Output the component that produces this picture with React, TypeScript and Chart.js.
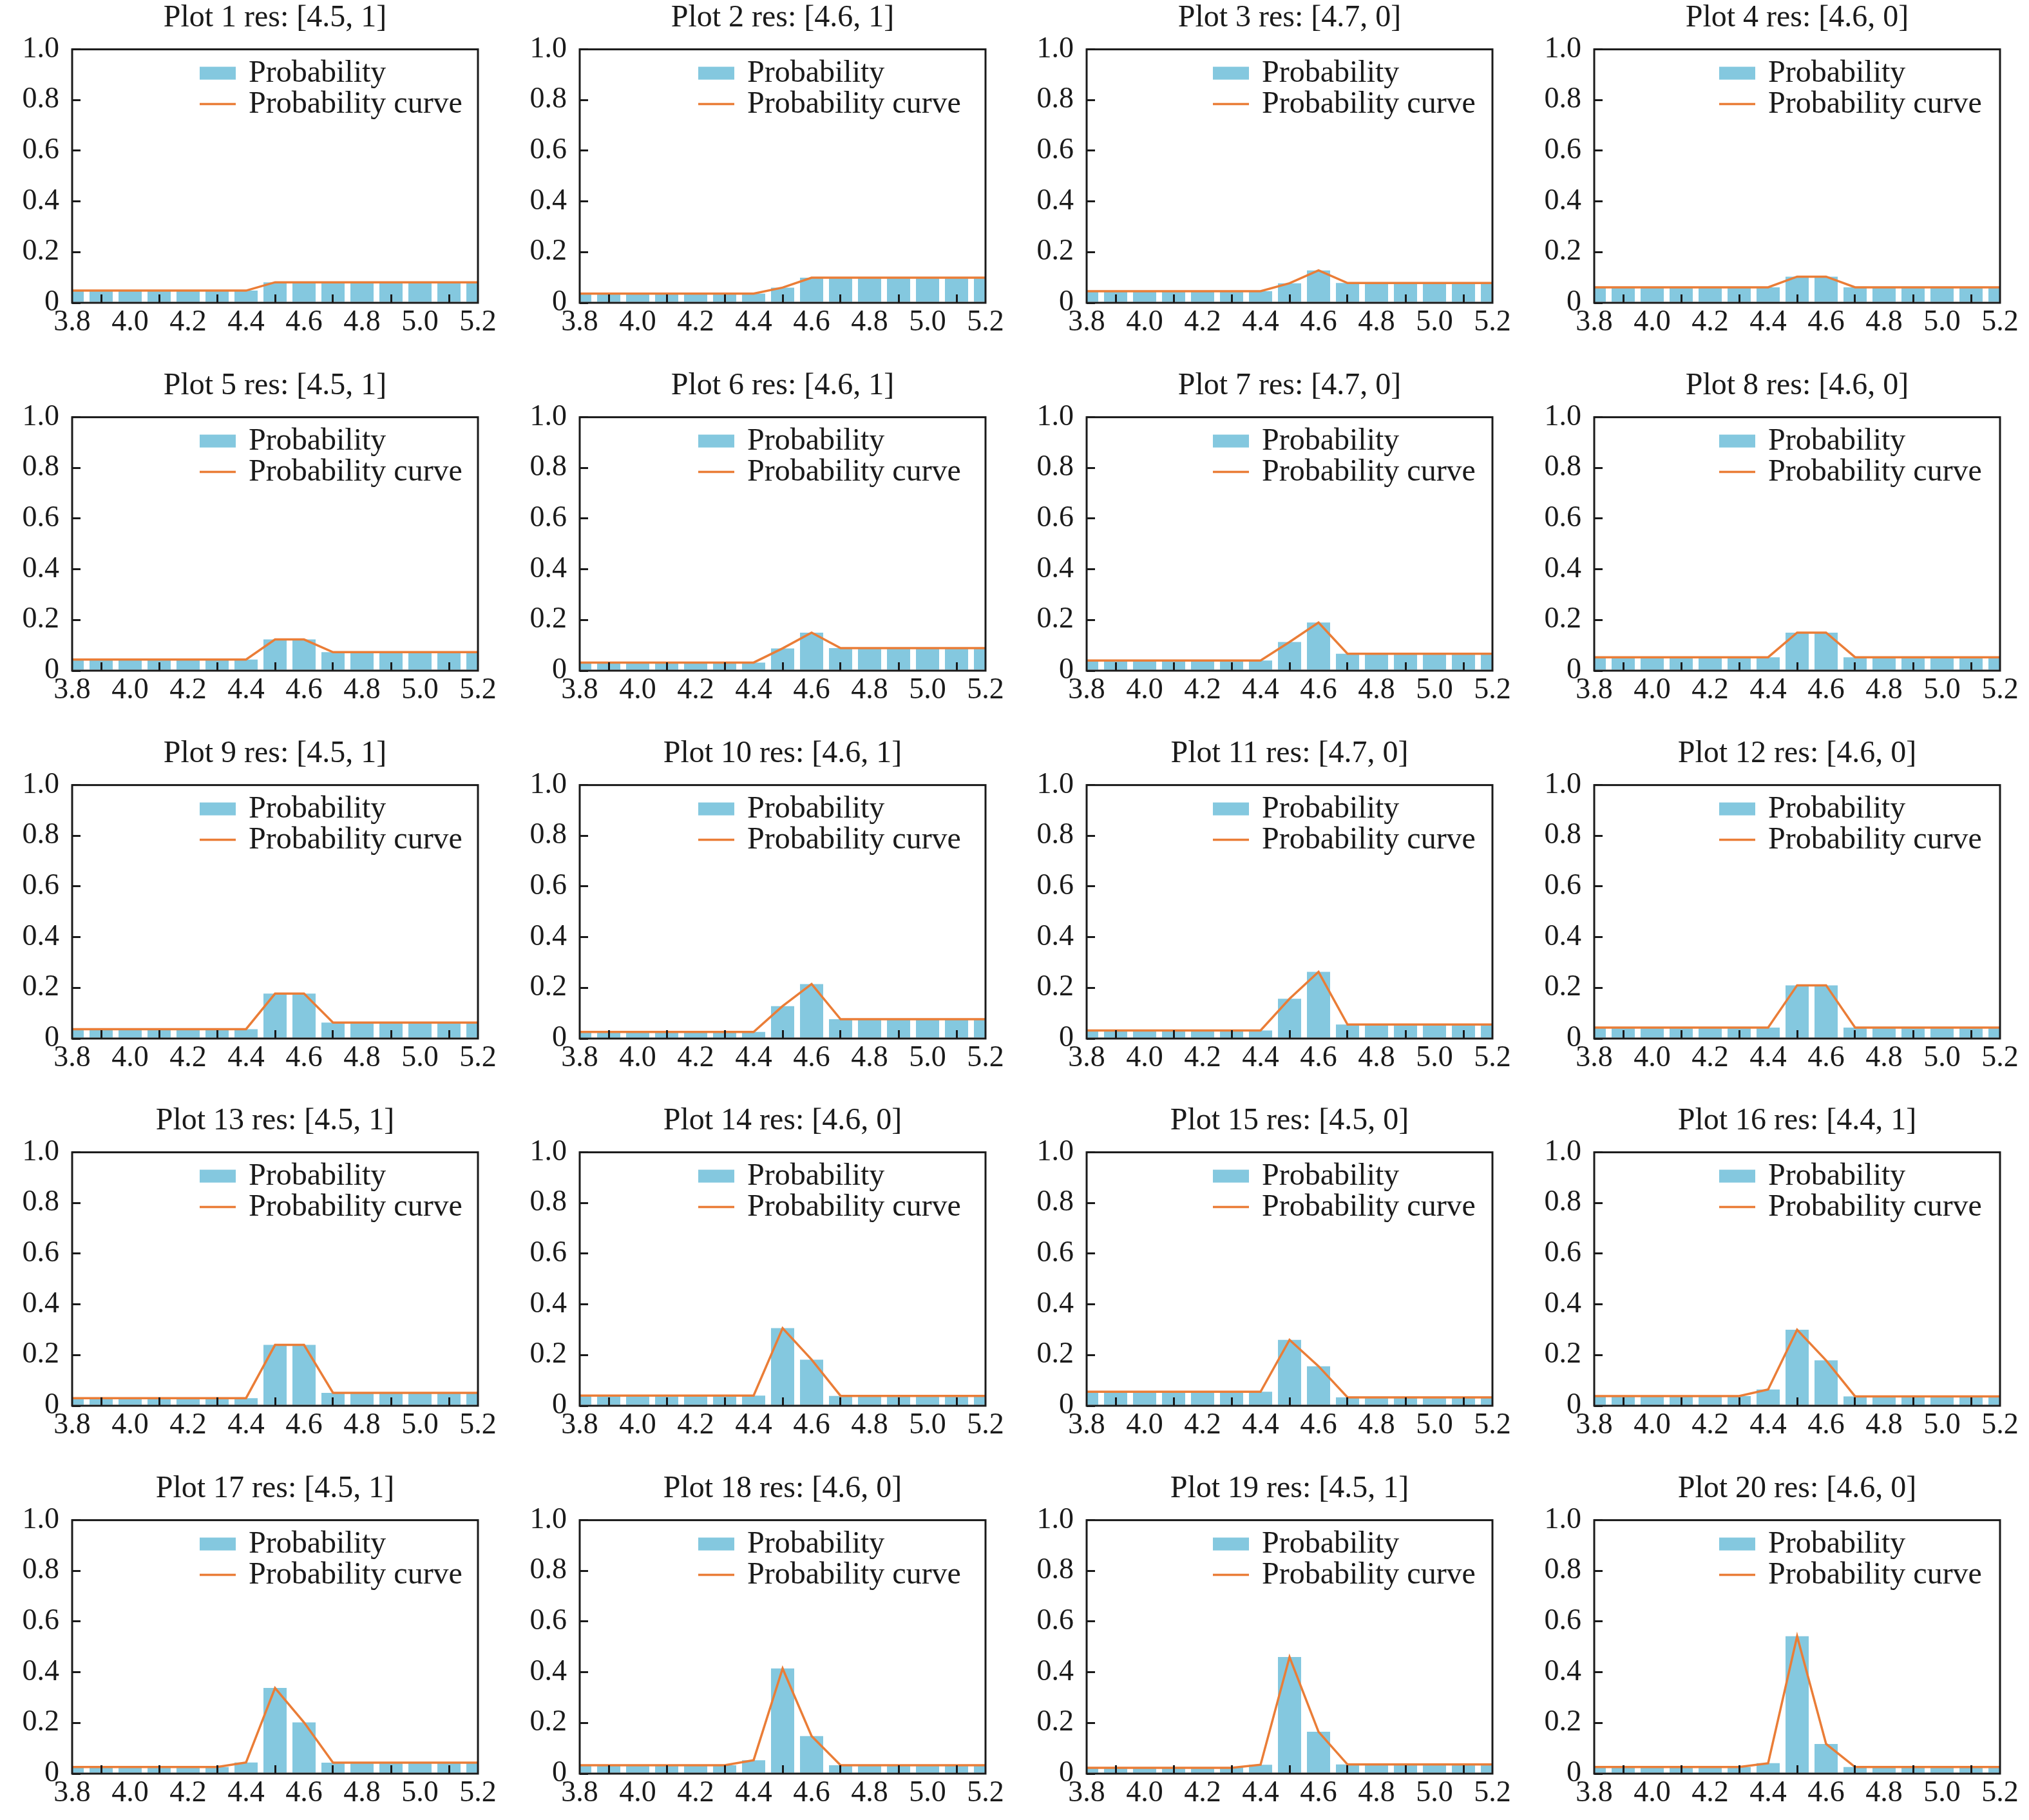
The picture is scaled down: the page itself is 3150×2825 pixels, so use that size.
import { useEffect, useRef } from 'react';
import { Chart, registerables } from 'chart.js';

Chart.register(...registerables);

// bin centres shared by every panel
const xValues = [3.8, 3.9, 4.0, 4.1, 4.2, 4.3, 4.4, 4.5, 4.6, 4.7, 4.8, 4.9, 5.0, 5.1, 5.2];
const xTicks = [3.8, 4.0, 4.2, 4.4, 4.6, 4.8, 5.0, 5.2];
const yTicks = [0, 0.2, 0.4, 0.6, 0.8, 1.0];

const seriesLabels = ['Probability', 'Probability curve'];

const results = [
  '[4.5, 1]', '[4.6, 1]', '[4.7, 0]', '[4.6, 0]',
  '[4.5, 1]', '[4.6, 1]', '[4.7, 0]', '[4.6, 0]',
  '[4.5, 1]', '[4.6, 1]', '[4.7, 0]', '[4.6, 0]',
  '[4.5, 1]', '[4.6, 0]', '[4.5, 0]', '[4.4, 1]',
  '[4.5, 1]', '[4.6, 0]', '[4.5, 1]', '[4.6, 0]'
];

// one row per plot
const probabilities: number[][] = [
  [0.048, 0.048, 0.048, 0.048, 0.048, 0.048, 0.048, 0.081, 0.081, 0.081, 0.081, 0.081, 0.081, 0.081, 0.081],
  [0.036, 0.036, 0.036, 0.036, 0.036, 0.036, 0.036, 0.06, 0.099, 0.099, 0.099, 0.099, 0.099, 0.099, 0.099],
  [0.046, 0.046, 0.046, 0.046, 0.046, 0.046, 0.046, 0.077, 0.128, 0.078, 0.078, 0.078, 0.078, 0.078, 0.078],
  [0.061, 0.061, 0.061, 0.061, 0.061, 0.061, 0.061, 0.103, 0.103, 0.061, 0.061, 0.061, 0.061, 0.061, 0.061],
  [0.044, 0.044, 0.044, 0.044, 0.044, 0.044, 0.044, 0.123, 0.123, 0.073, 0.073, 0.073, 0.073, 0.073, 0.073],
  [0.032, 0.032, 0.032, 0.032, 0.032, 0.032, 0.032, 0.088, 0.15, 0.089, 0.089, 0.089, 0.089, 0.089, 0.089],
  [0.04, 0.04, 0.04, 0.04, 0.04, 0.04, 0.04, 0.113, 0.19, 0.067, 0.067, 0.067, 0.067, 0.067, 0.067],
  [0.053, 0.053, 0.053, 0.053, 0.053, 0.053, 0.053, 0.15, 0.15, 0.053, 0.053, 0.053, 0.053, 0.053, 0.053],
  [0.037, 0.037, 0.037, 0.037, 0.037, 0.037, 0.037, 0.177, 0.177, 0.063, 0.063, 0.063, 0.063, 0.063, 0.063],
  [0.026, 0.026, 0.026, 0.026, 0.026, 0.026, 0.026, 0.128, 0.215, 0.076, 0.076, 0.076, 0.076, 0.076, 0.076],
  [0.032, 0.032, 0.032, 0.032, 0.032, 0.032, 0.032, 0.157, 0.263, 0.055, 0.055, 0.055, 0.055, 0.055, 0.055],
  [0.043, 0.043, 0.043, 0.043, 0.043, 0.043, 0.043, 0.21, 0.21, 0.043, 0.043, 0.043, 0.043, 0.043, 0.043],
  [0.03, 0.03, 0.03, 0.03, 0.03, 0.03, 0.03, 0.24, 0.24, 0.051, 0.051, 0.051, 0.051, 0.051, 0.051],
  [0.04, 0.04, 0.04, 0.04, 0.04, 0.04, 0.04, 0.306, 0.182, 0.039, 0.039, 0.039, 0.039, 0.039, 0.039],
  [0.055, 0.055, 0.055, 0.055, 0.055, 0.055, 0.055, 0.26, 0.156, 0.033, 0.033, 0.033, 0.033, 0.033, 0.033],
  [0.038, 0.038, 0.038, 0.038, 0.038, 0.038, 0.064, 0.3, 0.179, 0.037, 0.037, 0.037, 0.037, 0.037, 0.037],
  [0.026, 0.026, 0.026, 0.026, 0.026, 0.026, 0.044, 0.338, 0.202, 0.043, 0.043, 0.043, 0.043, 0.043, 0.043],
  [0.033, 0.033, 0.033, 0.033, 0.033, 0.033, 0.053, 0.415, 0.148, 0.033, 0.033, 0.033, 0.033, 0.033, 0.033],
  [0.023, 0.023, 0.023, 0.023, 0.023, 0.023, 0.035, 0.46, 0.165, 0.036, 0.036, 0.036, 0.036, 0.036, 0.036],
  [0.026, 0.026, 0.026, 0.026, 0.026, 0.026, 0.041, 0.542, 0.117, 0.026, 0.026, 0.026, 0.026, 0.026, 0.026]
];

const BAR = '#84C8DF';
const CURVE = '#EA7D37';
const INK = '#1a1a1a';
const FONT = "'Liberation Serif', 'Times New Roman', serif";

const CELL_W = 787;
const CELL_H = 540;
// legend left edge inside the axes, per column (matplotlib placed them slightly differently)
const legendOffsets = [198, 184, 196, 194];

// axes frame on all four sides
const framePlugin = {
  id: 'frame',
  afterDraw(chart: any) {
    const { ctx, chartArea: a } = chart;
    ctx.save();
    ctx.strokeStyle = INK;
    ctx.lineWidth = 3;
    ctx.strokeRect(a.left, a.top, a.right - a.left, a.bottom - a.top);
    ctx.restore();
  }
};

// legend drawn inside the plot area, no frame
const insideLegend = {
  id: 'insideLegend',
  afterDraw(chart: any, _args: any, opts: any) {
    const { ctx, chartArea: a } = chart;
    const left = a.left + (opts.offset ?? 196);
    ctx.save();
    ctx.font = `48px ${FONT}`;
    ctx.textAlign = 'left';
    ctx.textBaseline = 'middle';
    chart.data.datasets.forEach((ds: any, i: number) => {
      const cy = a.top + 37 + i * 48;
      if (ds.type === 'line') {
        ctx.strokeStyle = ds.borderColor;
        ctx.lineWidth = ds.borderWidth;
        ctx.beginPath();
        ctx.moveTo(left, cy);
        ctx.lineTo(left + 56, cy);
        ctx.stroke();
      } else {
        ctx.fillStyle = ds.backgroundColor;
        ctx.fillRect(left, cy - 10, 56, 20);
      }
      ctx.fillStyle = INK;
      ctx.fillText(ds.label, left + 76, cy + 1);
    });
    ctx.restore();
  }
};

const ProbPlot: React.FC<{ index: number }> = ({ index }) => {
  const canvas = useRef<HTMLCanvasElement | null>(null);

  useEffect(() => {
    const node = canvas.current;
    if (!node) {
      return;
    }
    const probs = probabilities[index];
    const points = xValues.map((x, i) => ({ x, y: probs[i] }));

    const axisGrid = {
      display: true,
      drawOnChartArea: false,
      drawTicks: true,
      tickLength: -13,
      color: INK,
      lineWidth: 3,
      z: 1
    };

    const chart = new Chart(node, {
      type: 'bar',
      data: {
        datasets: [
          {
            type: 'bar',
            label: seriesLabels[0],
            data: points,
            backgroundColor: BAR,
            borderWidth: 0,
            barPercentage: 1,
            categoryPercentage: 0.8,
            order: 1
          },
          {
            type: 'line',
            label: seriesLabels[1],
            data: points,
            borderColor: CURVE,
            backgroundColor: CURVE,
            borderWidth: 3.5,
            pointRadius: 0,
            tension: 0,
            order: 0
          }
        ] as any
      },
      options: {
        responsive: false,
        animation: false,
        devicePixelRatio: 1,
        layout: { padding: { left: 0, right: 45, top: 0, bottom: 0 } },
        plugins: {
          legend: { display: false },
          tooltip: { enabled: false },
          insideLegend: { offset: legendOffsets[index % 4] },
          title: {
            display: true,
            fullSize: false,
            text: `Plot ${index + 1} res: ${results[index]}`,
            color: INK,
            font: { family: FONT, size: 48, weight: 'normal' },
            padding: { top: 0, bottom: 19 }
          }
        },
        scales: {
          x: {
            type: 'linear',
            min: 3.8,
            max: 5.2,
            offset: false,
            afterBuildTicks: (s: any) => {
              s.ticks = xTicks.map((v) => ({ value: v }));
            },
            afterFit: (s: any) => {
              s.height = 70;
            },
            border: { display: false },
            grid: axisGrid,
            ticks: {
              padding: 16,
              color: INK,
              autoSkip: false,
              maxRotation: 0,
              font: { family: FONT, size: 46 },
              callback: (v: any) => Number(v).toFixed(1)
            }
          },
          y: {
            min: 0,
            max: 1,
            afterBuildTicks: (s: any) => {
              s.ticks = yTicks.map((v) => ({ value: v }));
            },
            afterFit: (s: any) => {
              s.width = 112;
            },
            border: { display: false },
            grid: axisGrid,
            ticks: {
              padding: 33,
              color: INK,
              font: { family: FONT, size: 46 },
              callback: (v: any) => (Number(v) === 0 ? '0' : Number(v).toFixed(1))
            }
          }
        }
      } as any,
      plugins: [framePlugin, insideLegend]
    });

    return () => {
      chart.destroy();
    };
  }, [index]);

  return (
    <canvas
      ref={canvas}
      width={CELL_W}
      height={CELL_H}
      style={{ width: CELL_W, height: CELL_H, display: 'block' }}
      role="img"
      aria-label={`Plot ${index + 1}`}
    />
  );
};

export default function App() {
  return (
    <div
      style={{
        position: 'absolute',
        left: 0,
        top: 0,
        width: 3150,
        height: 2825,
        overflow: 'hidden',
        background: '#fff'
      }}
    >
      {probabilities.map((_, i) => (
        <div
          key={i}
          style={{
            position: 'absolute',
            left: Math.round((i % 4) * 787.5),
            top: Math.round(Math.floor(i / 4) * 570.75),
            width: CELL_W,
            height: CELL_H
          }}
        >
          <ProbPlot index={i} />
        </div>
      ))}
    </div>
  );
}
